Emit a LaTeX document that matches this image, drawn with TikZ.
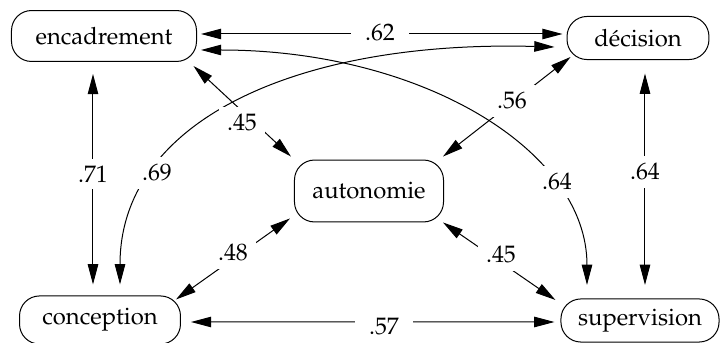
\documentclass[tikz,border=0pt]{standalone}
\usepackage[T1]{fontenc}
\usepackage{mathpazo}
\usetikzlibrary{arrows.meta}
\begin{document}
\begin{tikzpicture}[x=0.42pt,y=-0.42pt,
  every node/.style={font=\fontsize{10}{12}\selectfont},
  var/.style={draw, rounded corners=8.4pt, line width=0.42pt, inner sep=0pt},
  lab/.style={fill=white, inner xsep=3.5pt, inner ysep=3pt},
  hlab/.style={lab, inner xsep=6pt},
  conn/.style={line width=0.42pt, {Triangle[length=8.5pt,width=4.4pt]}-{Triangle[length=8.5pt,width=4.4pt]}}]
\useasboundingbox (0,0) rectangle (722,343);
% variables
\node[var, minimum width=77.7pt, minimum height=21.4pt] (enc) at (104,36) {encadrement};
\node[var, minimum width=59.6pt, minimum height=18.1pt] (dec) at (638,38) {d\'ecision};
\node[var, minimum width=62.6pt, minimum height=26pt] (aut) at (369,191) {autonomie};
\node[var, minimum width=67.6pt, minimum height=20.2pt] (con) at (100,320) {conception};
\node[var, minimum width=66.4pt, minimum height=18.1pt] (sup) at (640,320.5) {supervision};
% connectors
\draw[conn] ([shift={(4,-2)}]enc.east) -- ([shift={(-4,-4)}]dec.west);
\draw[conn] ([shift={(4,14)}]enc.east) .. controls +(220,0) and +(0,-135) .. ([shift={(-53,-13.5)}]sup.north);
\draw[conn] ([shift={(-12,9)}]dec.west) .. controls +(-255,-7) and +(0,-165) .. ([shift={(20,-11)}]con.north);
\draw[conn] ([shift={(-11,12)}]enc.south) -- ([shift={(-7,-11)}]con.north);
\draw[conn] ([shift={(7,13.5)}]dec.south) -- ([shift={(5,-13.5)}]sup.north);
\draw[conn] ([shift={(4,19)}]dec.west) -- ([shift={(74,-3)}]aut.north);
\draw[conn] ([shift={(-3.5,30)}]enc.east) -- ([shift={(-78,-3)}]aut.north);
\draw[conn] ([shift={(-79,-4)}]aut.south) -- ([shift={(76,4)}]con.north);
\draw[conn] ([shift={(74,0)}]aut.south) -- ([shift={(-5,-20.5)}]sup.west);
\draw[conn] ([shift={(10,2)}]con.east) -- ([shift={(-6,1.5)}]sup.west);
% labels
\node[hlab] (l62) at (380,33) {.62};
\node[lab] (l45a) at (242,123) {.45};
\node[lab] (l56) at (512,101) {.56};
\node[lab] (l71) at (93,174) {.71};
\node[lab] (l69) at (157,173) {.69};
\node[lab] (l64a) at (557,182) {.64};
\node[lab] (l64b) at (645,172) {.64};
\node[lab] (l48) at (233,253) {.48};
\node[lab] (l45b) at (501,255) {.45};
\node[hlab] (l57) at (384,327) {.57};
\end{tikzpicture}
\end{document}
